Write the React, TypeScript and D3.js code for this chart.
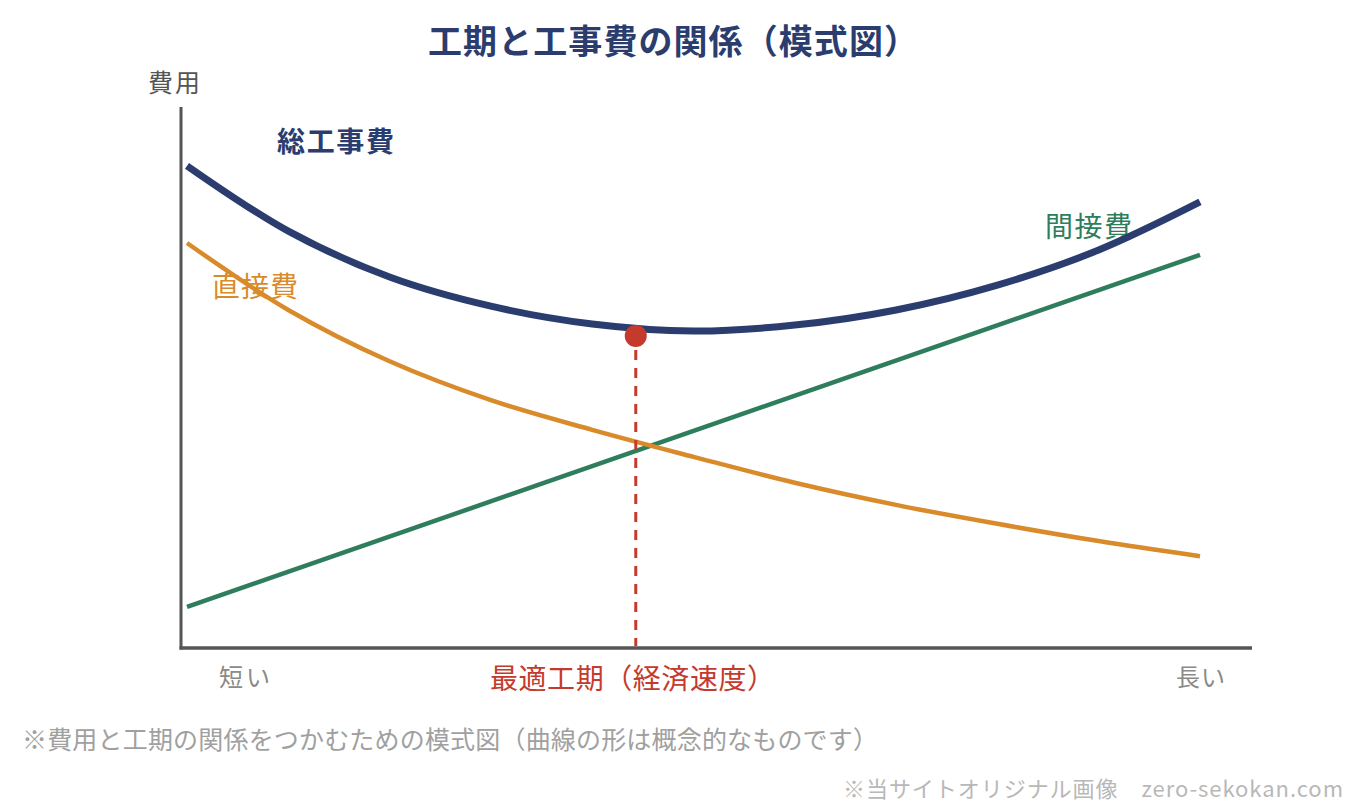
import React from "react";
import * as d3 from "d3";

// 工期（0 = 短い, 10 = 長い）と費用（相対値）
const periods = [0, 1, 2, 3, 4, 5, 6, 7, 8, 9, 10];
const directCost = [75.0, 62.6, 53.1, 45.9, 40.4, 35.4, 30.6, 26.5, 23.0, 19.8, 17.0];
const totalCost = [89.3, 77.2, 68.7, 63.3, 60.0, 58.7, 59.8, 62.6, 67.2, 73.7, 82.6];
const indirectPeriods = [0, 10];
const indirectCost = [7.6, 72.8];
const optimumPeriod = 4.43;
const optimumCost = 57.8;

const W = 1360;
const H = 812;
const FONT = "'Noto Sans CJK JP', 'Noto Sans', sans-serif";

const NAVY = "#2a3d6e";
const ORANGE = "#d98b2b";
const GREEN = "#2e7d5c";
const RED = "#c43a2d";

const App = () => {
  const x = d3.scaleLinear().domain([0, 10]).range([187, 1200]);
  const y = d3.scaleLinear().domain([0, 100]).range([648, 108]);

  const line = d3
    .line<[number, number]>()
    .x((d) => x(d[0]))
    .y((d) => y(d[1]))
    .curve(d3.curveCatmullRom.alpha(0.5));

  const direct = periods.map((p, i) => [p, directCost[i]] as [number, number]);
  const total = periods.map((p, i) => [p, totalCost[i]] as [number, number]);
  const indirect = indirectPeriods.map((p, i) => [p, indirectCost[i]] as [number, number]);

  const axisX = 181;
  const axisY = y(0);

  return (
    <svg
      width={W}
      height={H}
      style={{ position: "absolute", left: 0, top: 0, background: "#fff" }}
      fontFamily={FONT}
    >
      {/* title */}
      <text x={428} y={54} textLength={490} lengthAdjust="spacing" fontSize={34} fontWeight="bold" fill={NAVY}>
        工期と工事費の関係（模式図）
      </text>

      {/* axes */}
      <line x1={axisX} x2={axisX} y1={107} y2={axisY + 1.5} stroke="#555" strokeWidth={3} />
      <line x1={axisX - 1.5} x2={1252} y1={axisY} y2={axisY} stroke="#555" strokeWidth={3.5} />
      <text x={148} y={92} textLength={52} fontSize={25} fill="#555">費用</text>
      <text x={219} y={686} textLength={51} fontSize={24} fill="#8a8a8a">短い</text>
      <text x={1176} y={686} textLength={49} fontSize={24} fill="#8a8a8a">長い</text>

      {/* series labels */}
      <text x={277} y={152} textLength={117} fontSize={28} fontWeight="bold" fill={NAVY}>総工事費</text>
      <text x={212} y={297} textLength={86} fontSize={28} fill={ORANGE}>直接費</text>
      <text x={1045} y={237} textLength={87} fontSize={28} fill={GREEN}>間接費</text>

      {/* curves */}
      <path d={line(indirect) ?? ""} fill="none" stroke={GREEN} strokeWidth={4.5} />
      <path d={line(direct) ?? ""} fill="none" stroke={ORANGE} strokeWidth={4.5} />
      <path d={line(total) ?? ""} fill="none" stroke={NAVY} strokeWidth={7} />

      {/* optimum */}
      <line
        x1={x(optimumPeriod)}
        x2={x(optimumPeriod)}
        y1={y(optimumCost) + 14}
        y2={axisY - 2}
        stroke={RED}
        strokeWidth={3}
        strokeDasharray="10,8"
      />
      <circle cx={x(optimumPeriod)} cy={y(optimumCost)} r={11} fill={RED} />
      <text x={490} y={689} textLength={285} fontSize={28} fill={RED}>最適工期（経済速度）</text>

      {/* notes */}
      <text x={22} y={749} textLength={856} fontSize={25} fill="#a0a0a0">
        ※費用と工期の関係をつかむための模式図（曲線の形は概念的なものです）
      </text>
      <text x={843} y={797} textLength={500} fontSize={22} fill="#b8b8b8">
        ※当サイトオリジナル画像　zero-sekokan.com
      </text>
    </svg>
  );
};

export default App;
